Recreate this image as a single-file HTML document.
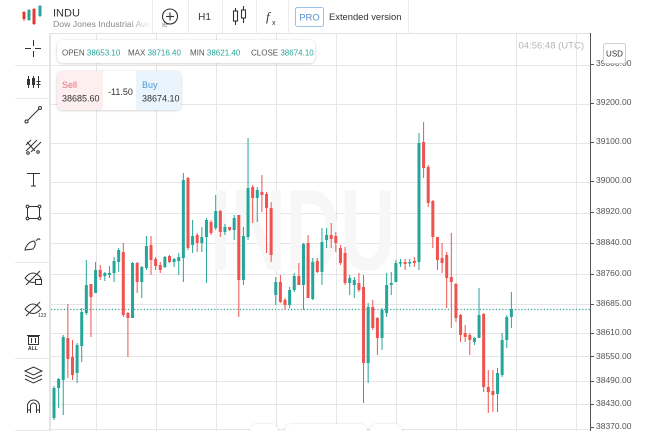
<!DOCTYPE html>
<html><head><meta charset="utf-8"><style>
html,body{margin:0;padding:0;background:#fff;width:650px;height:431px;overflow:hidden}
svg{display:block;font-family:"Liberation Sans",sans-serif}
</style></head><body>
<svg width="650" height="431" viewBox="0 0 650 431" xmlns="http://www.w3.org/2000/svg">
<defs>
<filter id="sh" x="-10%" y="-30%" width="120%" height="160%"><feDropShadow dx="0" dy="0.5" stdDeviation="1.3" flood-color="#000" flood-opacity="0.22"/></filter>
<linearGradient id="fade" x1="0" x2="1"><stop offset="0" stop-color="#fff" stop-opacity="0"/><stop offset="1" stop-color="#fff" stop-opacity="1"/></linearGradient>
<clipPath id="plot"><rect x="51" y="34" width="539" height="397"/></clipPath>
</defs>
<rect width="650" height="431" fill="#fff"/>
<g stroke="#e6e6e6" stroke-width="1">
<line x1="51" y1="65.5" x2="590" y2="65.5"/><line x1="51" y1="104.5" x2="590" y2="104.5"/>
<line x1="51" y1="143.5" x2="590" y2="143.5"/><line x1="51" y1="182.5" x2="590" y2="182.5"/>
<line x1="51" y1="213.5" x2="590" y2="213.5"/><line x1="51" y1="243.5" x2="590" y2="243.5"/>
<line x1="51" y1="274.5" x2="590" y2="274.5"/><line x1="51" y1="304.5" x2="590" y2="304.5"/>
<line x1="51" y1="333.5" x2="590" y2="333.5"/><line x1="51" y1="356.5" x2="590" y2="356.5"/>
<line x1="51" y1="381.5" x2="590" y2="381.5"/><line x1="51" y1="404.5" x2="590" y2="404.5"/>
<line x1="51" y1="429.5" x2="590" y2="429.5"/>
<line x1="96.5" y1="34" x2="96.5" y2="431"/><line x1="156.5" y1="34" x2="156.5" y2="431"/>
<line x1="216.5" y1="34" x2="216.5" y2="431"/><line x1="276.5" y1="34" x2="276.5" y2="431"/>
<line x1="336.5" y1="34" x2="336.5" y2="431"/><line x1="396.5" y1="34" x2="396.5" y2="431"/>
<line x1="456.5" y1="34" x2="456.5" y2="431"/><line x1="516.5" y1="34" x2="516.5" y2="431"/>
<line x1="576.5" y1="34" x2="576.5" y2="431"/>
</g>
<text x="210" y="270" font-size="115" font-weight="bold" fill="#f7f7f7" textLength="185" lengthAdjust="spacingAndGlyphs">INDU</text>
<line x1="50" y1="33.5" x2="590" y2="33.5" stroke="#e2e2e2"/>
<rect x="49" y="33" width="2" height="398" fill="#e4e4e4"/>
<line x1="590.5" y1="33" x2="590.5" y2="431" stroke="#555"/>
<line x1="51" y1="309.5" x2="590" y2="309.5" stroke="#26a69a" stroke-width="1.2" stroke-dasharray="1.2,2"/>
<g clip-path="url(#plot)">
<g fill="#26a69a">
<rect x="53.5" y="386" width="1" height="34"/><rect x="52.5" y="388" width="3" height="30"/>
<rect x="58.12" y="378" width="1" height="30"/><rect x="57.12" y="379" width="3" height="9"/>
<rect x="62.74" y="335" width="1" height="80"/><rect x="61.74" y="337" width="3" height="43"/>
<rect x="76.6" y="343" width="1" height="40"/><rect x="75.6" y="345" width="3" height="28"/>
<rect x="81.22" y="308" width="1" height="54"/><rect x="80.22" y="312" width="3" height="34"/>
<rect x="85.84" y="260" width="1" height="55"/><rect x="84.84" y="285" width="3" height="28"/>
<rect x="95.08" y="262" width="1" height="31"/><rect x="94.08" y="270" width="3" height="23"/>
<rect x="104.32" y="272" width="1" height="9"/><rect x="103.32" y="273" width="3" height="3"/>
<rect x="108.94" y="266" width="1" height="12"/><rect x="107.94" y="273" width="3" height="2"/>
<rect x="113.56" y="257" width="1" height="25"/><rect x="112.56" y="261" width="3" height="12"/>
<rect x="118.18" y="248" width="1" height="24"/><rect x="117.18" y="250" width="3" height="12"/>
<rect x="132.04" y="262" width="1" height="56"/><rect x="131.04" y="263" width="3" height="55"/>
<rect x="141.28" y="266" width="1" height="32"/><rect x="140.28" y="267" width="3" height="15"/>
<rect x="145.9" y="236" width="1" height="34"/><rect x="144.9" y="246" width="3" height="22"/>
<rect x="164.38" y="256" width="1" height="12"/><rect x="163.38" y="257" width="3" height="10"/>
<rect x="173.62" y="258" width="1" height="9"/><rect x="172.62" y="259" width="3" height="3"/>
<rect x="178.24" y="253" width="1" height="22"/><rect x="177.24" y="257" width="3" height="4"/>
<rect x="182.86" y="173" width="1" height="109"/><rect x="181.86" y="180" width="3" height="78"/>
<rect x="192.1" y="220" width="1" height="33"/><rect x="191.1" y="236" width="3" height="9"/>
<rect x="201.34" y="227" width="1" height="25"/><rect x="200.34" y="237" width="3" height="6"/>
<rect x="205.96" y="218" width="1" height="65"/><rect x="204.96" y="220" width="3" height="17"/>
<rect x="215.2" y="195" width="1" height="35"/><rect x="214.2" y="211" width="3" height="17"/>
<rect x="224.44" y="224" width="1" height="11"/><rect x="223.44" y="227" width="3" height="5"/>
<rect x="233.68" y="215" width="1" height="25"/><rect x="232.68" y="218" width="3" height="12"/>
<rect x="242.92" y="227" width="1" height="58"/><rect x="241.92" y="236" width="3" height="44"/>
<rect x="247.54" y="138" width="1" height="102"/><rect x="246.54" y="188" width="3" height="49"/>
<rect x="256.78" y="187" width="1" height="35"/><rect x="255.78" y="190" width="3" height="8"/>
<rect x="275.26" y="277" width="1" height="28"/><rect x="274.26" y="282" width="3" height="13"/>
<rect x="289.12" y="287" width="1" height="21"/><rect x="288.12" y="290" width="3" height="15"/>
<rect x="293.74" y="273" width="1" height="19"/><rect x="292.74" y="276" width="3" height="14"/>
<rect x="302.98" y="243" width="1" height="67"/><rect x="301.98" y="244" width="3" height="41"/>
<rect x="312.22" y="258" width="1" height="42"/><rect x="311.22" y="262" width="3" height="37"/>
<rect x="321.46" y="228" width="1" height="57"/><rect x="320.46" y="242" width="3" height="30"/>
<rect x="326.08" y="228" width="1" height="20"/><rect x="325.08" y="235" width="3" height="5"/>
<rect x="349.18" y="275" width="1" height="20"/><rect x="348.18" y="278" width="3" height="5"/>
<rect x="353.8" y="277" width="1" height="21"/><rect x="352.8" y="280" width="3" height="5"/>
<rect x="367.66" y="303" width="1" height="80"/><rect x="366.66" y="307" width="3" height="56"/>
<rect x="381.52" y="308" width="1" height="42"/><rect x="380.52" y="310" width="3" height="28"/>
<rect x="386.14" y="273" width="1" height="44"/><rect x="385.14" y="285" width="3" height="28"/>
<rect x="390.76" y="272" width="1" height="23"/><rect x="389.76" y="283" width="3" height="2"/>
<rect x="395.38" y="260" width="1" height="22"/><rect x="394.38" y="263" width="3" height="19"/>
<rect x="400" y="259" width="1" height="8"/><rect x="399" y="262" width="3" height="1.5"/>
<rect x="409.24" y="259" width="1" height="8"/><rect x="408.24" y="262" width="3" height="1.5"/>
<rect x="418.48" y="133" width="1" height="137"/><rect x="417.48" y="143" width="3" height="119"/>
<rect x="473.92" y="337" width="1" height="8"/><rect x="472.92" y="338" width="3" height="4"/>
<rect x="478.54" y="288" width="1" height="50"/><rect x="477.54" y="315" width="3" height="23"/>
<rect x="497.02" y="368" width="1" height="44"/><rect x="496.02" y="373" width="3" height="21"/>
<rect x="501.64" y="333" width="1" height="44"/><rect x="500.64" y="340" width="3" height="35"/>
<rect x="506.26" y="315" width="1" height="33"/><rect x="505.26" y="317" width="3" height="23"/>
<rect x="510.88" y="292" width="1" height="36"/><rect x="509.88" y="309" width="3" height="8"/>
</g>
<g fill="#ef5350">
<rect x="67.36" y="304" width="1" height="74"/><rect x="66.36" y="338" width="3" height="21"/>
<rect x="71.98" y="340" width="1" height="40"/><rect x="70.98" y="357" width="3" height="18"/>
<rect x="90.46" y="284" width="1" height="53"/><rect x="89.46" y="284" width="3" height="13"/>
<rect x="99.7" y="265" width="1" height="15"/><rect x="98.7" y="270" width="3" height="7"/>
<rect x="122.8" y="243" width="1" height="74"/><rect x="121.8" y="252" width="3" height="63"/>
<rect x="127.42" y="312" width="1" height="45"/><rect x="126.42" y="313" width="3" height="5"/>
<rect x="136.66" y="262" width="1" height="31"/><rect x="135.66" y="263" width="3" height="19"/>
<rect x="150.52" y="236" width="1" height="39"/><rect x="149.52" y="245" width="3" height="15"/>
<rect x="155.14" y="257" width="1" height="13"/><rect x="154.14" y="259" width="3" height="7"/>
<rect x="159.76" y="262" width="1" height="11"/><rect x="158.76" y="265" width="3" height="5"/>
<rect x="169" y="255" width="1" height="8"/><rect x="168" y="256" width="3" height="6"/>
<rect x="187.48" y="177" width="1" height="73"/><rect x="186.48" y="178" width="3" height="70"/>
<rect x="196.72" y="233" width="1" height="19"/><rect x="195.72" y="235" width="3" height="8"/>
<rect x="210.58" y="220" width="1" height="15"/><rect x="209.58" y="222" width="3" height="11"/>
<rect x="219.82" y="210" width="1" height="27"/><rect x="218.82" y="211" width="3" height="21"/>
<rect x="229.06" y="227" width="1" height="4"/><rect x="228.06" y="227" width="3" height="3"/>
<rect x="238.3" y="215" width="1" height="102"/><rect x="237.3" y="215" width="3" height="65"/>
<rect x="252.16" y="185" width="1" height="38"/><rect x="251.16" y="187" width="3" height="11"/>
<rect x="261.4" y="175" width="1" height="37"/><rect x="260.4" y="192" width="3" height="3"/>
<rect x="266.02" y="192" width="1" height="61"/><rect x="265.02" y="194" width="3" height="14"/>
<rect x="270.64" y="202" width="1" height="60"/><rect x="269.64" y="208" width="3" height="47"/>
<rect x="279.88" y="275" width="1" height="28"/><rect x="278.88" y="282" width="3" height="20"/>
<rect x="284.5" y="298" width="1" height="12"/><rect x="283.5" y="300" width="3" height="5"/>
<rect x="298.36" y="263" width="1" height="22"/><rect x="297.36" y="276" width="3" height="9"/>
<rect x="307.6" y="235" width="1" height="63"/><rect x="306.6" y="243" width="3" height="55"/>
<rect x="316.84" y="258" width="1" height="15"/><rect x="315.84" y="261" width="3" height="11"/>
<rect x="330.7" y="223" width="1" height="25"/><rect x="329.7" y="235" width="3" height="4"/>
<rect x="335.32" y="232" width="1" height="20"/><rect x="334.32" y="236" width="3" height="7"/>
<rect x="339.94" y="245" width="1" height="20"/><rect x="338.94" y="248" width="3" height="15"/>
<rect x="344.56" y="247" width="1" height="38"/><rect x="343.56" y="253" width="3" height="30"/>
<rect x="358.42" y="273" width="1" height="19"/><rect x="357.42" y="283" width="3" height="7"/>
<rect x="363.04" y="275" width="1" height="128"/><rect x="362.04" y="287" width="3" height="76"/>
<rect x="372.28" y="300" width="1" height="30"/><rect x="371.28" y="307" width="3" height="21"/>
<rect x="376.9" y="317" width="1" height="38"/><rect x="375.9" y="318" width="3" height="20"/>
<rect x="404.62" y="259" width="1" height="11"/><rect x="403.62" y="262" width="3" height="2"/>
<rect x="413.86" y="257" width="1" height="10"/><rect x="412.86" y="261" width="3" height="2"/>
<rect x="423.1" y="122" width="1" height="56"/><rect x="422.1" y="142" width="3" height="26"/>
<rect x="427.72" y="165" width="1" height="42"/><rect x="426.72" y="167" width="3" height="36"/>
<rect x="432.34" y="200" width="1" height="48"/><rect x="431.34" y="201" width="3" height="36"/>
<rect x="436.96" y="237" width="1" height="33"/><rect x="435.96" y="237" width="3" height="23"/>
<rect x="441.58" y="243" width="1" height="30"/><rect x="440.58" y="258" width="3" height="5"/>
<rect x="446.2" y="252" width="1" height="56"/><rect x="445.2" y="255" width="3" height="23"/>
<rect x="450.82" y="233" width="1" height="95"/><rect x="449.82" y="277" width="3" height="5"/>
<rect x="455.44" y="283" width="1" height="39"/><rect x="454.44" y="284" width="3" height="34"/>
<rect x="460.06" y="314" width="1" height="28"/><rect x="459.06" y="315" width="3" height="20"/>
<rect x="464.68" y="325" width="1" height="17"/><rect x="463.68" y="333" width="3" height="4"/>
<rect x="469.3" y="333" width="1" height="22"/><rect x="468.3" y="335" width="3" height="5"/>
<rect x="483.16" y="313" width="1" height="79"/><rect x="482.16" y="314" width="3" height="73"/>
<rect x="487.78" y="370" width="1" height="43"/><rect x="486.78" y="387" width="3" height="5"/>
<rect x="492.4" y="370" width="1" height="42"/><rect x="491.4" y="391" width="3" height="4"/>
</g>
</g>
<g stroke="#555">
<line x1="590" y1="64.5" x2="594" y2="64.5"/><line x1="590" y1="103.5" x2="594" y2="103.5"/>
<line x1="590" y1="142.5" x2="594" y2="142.5"/><line x1="590" y1="181.5" x2="594" y2="181.5"/>
<line x1="590" y1="212.5" x2="594" y2="212.5"/><line x1="590" y1="243.5" x2="594" y2="243.5"/>
<line x1="590" y1="274.5" x2="594" y2="274.5"/><line x1="590" y1="304.5" x2="594" y2="304.5"/>
<line x1="590" y1="333.5" x2="594" y2="333.5"/><line x1="590" y1="356.5" x2="594" y2="356.5"/>
<line x1="590" y1="381.5" x2="594" y2="381.5"/><line x1="590" y1="404.5" x2="594" y2="404.5"/>
<line x1="590" y1="427.5" x2="594" y2="427.5"/>
</g>
<g font-size="8.5" fill="#555">
<text x="596" y="66">39300.00</text><text x="596" y="105">39200.00</text>
<text x="596" y="144">39100.00</text><text x="596" y="183">39000.00</text>
<text x="596" y="214">38920.00</text><text x="596" y="245">38840.00</text>
<text x="596" y="276">38760.00</text><text x="596" y="306">38685.00</text>
<text x="596" y="335">38610.00</text><text x="596" y="359">38550.00</text>
<text x="596" y="383">38490.00</text><text x="596" y="406">38430.00</text>
<text x="596" y="429">38370.00</text>
</g>
<rect x="603.5" y="43.5" width="22" height="20" rx="2" fill="#fff" stroke="#cfcfcf"/>
<text x="614.5" y="56.5" font-size="8" fill="#333" text-anchor="middle">USD</text>
<text x="584" y="48.5" font-size="9.5" fill="#b5b5b5" text-anchor="end">04:56:48 (UTC)</text>
<rect x="57" y="40" width="258" height="23" rx="6" fill="#fff" filter="url(#sh)"/>
<g font-size="8" fill="#555">
<text x="62" y="55.5">OPEN <tspan fill="#26a69a">38653.10</tspan></text>
<text x="128" y="55.5">MAX <tspan fill="#26a69a">38716.40</tspan></text>
<text x="190" y="55.5">MIN <tspan fill="#26a69a">38621.40</tspan></text>
<text x="251" y="55.5">CLOSE <tspan fill="#26a69a">38674.10</tspan></text>
</g>
<rect x="57" y="71" width="124" height="39" rx="5" fill="#fff" filter="url(#sh)"/>
<path d="M62 71 H103 V110 H62 A5 5 0 0 1 57 105 V76 A5 5 0 0 1 62 71 Z" fill="#fdeef0"/>
<path d="M136 71 H176 A5 5 0 0 1 181 76 V105 A5 5 0 0 1 176 110 H136 Z" fill="#eaf4fc"/>
<g font-size="9">
<text x="62" y="88" fill="#e8707a">Sell</text>
<text x="62" y="101.5" fill="#333">38685.60</text>
<text x="108" y="95" fill="#333">-11.50</text>
<text x="142" y="88" fill="#4a9ad8">Buy</text>
<text x="142" y="101.5" fill="#333">38674.10</text>
</g>
<g fill="#fff" filter="url(#sh)">
<rect x="250" y="424" width="28" height="18" rx="7"/>
<rect x="285" y="424" width="82" height="18" rx="7"/>
<rect x="370" y="424" width="32" height="18" rx="7"/>
</g>
<rect x="0" y="0" width="650" height="33" fill="#fff"/>
<rect x="23.5" y="11" width="1" height="10" fill="#e53935"/><rect x="22.5" y="12" width="3" height="7" fill="#e53935"/>
<rect x="28.5" y="9" width="1" height="12" fill="#26a69a"/><rect x="27.5" y="10" width="3" height="10" fill="#26a69a"/>
<rect x="33.5" y="8" width="1" height="17" fill="#e53935"/><rect x="32.5" y="9" width="3" height="15" fill="#e53935"/>
<rect x="39.5" y="5" width="1" height="12" fill="#26a69a"/><rect x="38.5" y="6" width="3" height="10" fill="#26a69a"/>
<text x="53" y="16.5" font-size="11" fill="#333">INDU</text>
<text x="53" y="27" font-size="8.7" fill="#8a8a8a">Dow Jones Industrial Average</text>
<rect x="128" y="18" width="24" height="12" fill="url(#fade)"/>
<rect x="152" y="18" width="10" height="12" fill="#fff"/>
<g stroke="#ececec">
<line x1="152.5" y1="0" x2="152.5" y2="33"/><line x1="188.5" y1="0" x2="188.5" y2="33"/>
<line x1="222.5" y1="0" x2="222.5" y2="33"/><line x1="256.5" y1="0" x2="256.5" y2="33"/>
<line x1="288.5" y1="0" x2="288.5" y2="33"/><line x1="408.5" y1="0" x2="408.5" y2="33"/>
</g>
<g stroke="#333" fill="none" stroke-width="1.1">
<circle cx="170" cy="16.5" r="7.5"/><line x1="166" y1="16.5" x2="174" y2="16.5"/><line x1="170" y1="12.5" x2="170" y2="20.5"/>
<line x1="235.5" y1="8" x2="235.5" y2="25"/><rect x="233.5" y="11" width="4" height="10" fill="#fff"/>
<line x1="243.5" y1="6" x2="243.5" y2="23"/><rect x="241.5" y="10" width="4" height="8" fill="#fff"/>
</g>
<text x="204.5" y="20" font-size="10" fill="#333" text-anchor="middle">H1</text>
<text x="266" y="21" font-size="13" font-style="italic" fill="#333" font-family="Liberation Serif, serif">f</text>
<text x="272" y="25" font-size="7" fill="#333">x</text>
<rect x="295.5" y="7.5" width="28" height="19" rx="2" fill="#fff" stroke="#9cc0e8"/>
<text x="309.5" y="20.5" font-size="9.5" fill="#5b8fd0" text-anchor="middle">PRO</text>
<text x="329" y="20" font-size="9.4" fill="#333">Extended version</text>
<g stroke="#e9e9e9">
<line x1="15" y1="65.5" x2="49" y2="65.5"/><line x1="15" y1="98.5" x2="49" y2="98.5"/>
<line x1="15" y1="262.5" x2="49" y2="262.5"/><line x1="15" y1="358.5" x2="49" y2="358.5"/>
<line x1="15" y1="430.5" x2="49" y2="430.5"/>
</g>
<g stroke="#333" fill="none" stroke-width="1">
<path d="M25 48.5 H31 M35 48.5 H41 M33.5 40 V46 M33.5 51 V57"/>
<path d="M28.5 76 V88 M33.5 76 V88 M38.5 76 V88"/>
<rect x="27.5" y="79.5" width="2" height="5"/><rect x="32.5" y="78.5" width="2" height="6"/>
<path d="M36.5 81.5 H40.5 M36.5 84.5 H40.5"/>
<path d="M27.5 120.5 L39 109"/><circle cx="26.5" cy="121.5" r="1.5"/><circle cx="40" cy="108" r="1.5"/>
<path d="M26 145 L31 140 M26 151 L37 140 M31 152 L41 142 M27 142 L35 151"/>
<circle cx="28" cy="153" r="1.3"/><circle cx="38" cy="152" r="1.3"/>
<path d="M27 173.5 H40 M33.5 173.5 V186 M31 186 H36"/>
<rect x="27.5" y="206.5" width="12" height="12"/>
<circle cx="27.5" cy="206.5" r="1.4" fill="#fff"/><circle cx="39.5" cy="206.5" r="1.4" fill="#fff"/>
<circle cx="27.5" cy="218.5" r="1.4" fill="#fff"/><circle cx="39.5" cy="218.5" r="1.4" fill="#fff"/>
<path d="M25 250 Q27 242 34 241 Q37 244 33 249 Z M36 241 Q39 237 40 240"/>
<path d="M25 278 Q33 268 41 278 Q33 287 25 278 Z M26 285 L40 271"/>
<rect x="35.5" y="279.5" width="6" height="5" fill="#fff"/>
<path d="M25 309 Q33 299 41 309 Q33 318 25 309 Z M26 316 L40 302"/>
<rect x="28.5" y="336.5" width="10" height="8"/><path d="M27 335.5 H40 M31.5 338 V343 M35.5 338 V343"/>
<path d="M25 371 L33.5 367 L42 371 L33.5 375 Z M25 375 L33.5 379 L42 375 M25 379 L33.5 383 L42 379"/>
<path d="M27.5 413 V406 A6 6 0 0 1 39.5 406 V413 M30.5 413 V406 A3 3 0 0 1 36.5 406 V413 M27.5 410 H30.5 M36.5 410 H39.5"/>
</g>
<text x="38" y="317" font-size="5" fill="#333">123</text>
<text x="28" y="350" font-size="5" fill="#333" font-weight="bold">ALL</text>
</svg>
</body></html>
